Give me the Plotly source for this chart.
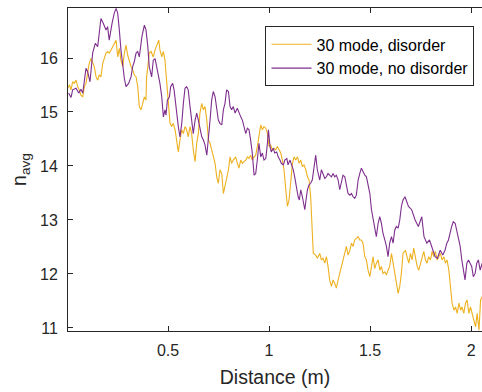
import plotly.graph_objects as go

# "30 mode, disorder"
dist_dis = [0.003, 0.012, 0.020, 0.028, 0.036, 0.045, 0.053, 0.061, 0.069, 0.078, 0.086, 0.094, 0.102, 0.110, 0.119, 0.127, 0.135, 0.144, 0.152, 0.160, 0.168, 0.177, 0.185, 0.193, 0.201, 0.209, 0.218, 0.226, 0.234, 0.243, 0.251, 0.259, 0.267, 0.276, 0.284, 0.292, 0.300, 0.309, 0.317, 0.325, 0.333, 0.342, 0.350, 0.358, 0.366, 0.375, 0.383, 0.391, 0.394, 0.400, 0.407, 0.416, 0.427, 0.436, 0.447, 0.454, 0.460, 0.469, 0.477, 0.485, 0.490, 0.497, 0.501, 0.510, 0.518, 0.526, 0.535, 0.543, 0.551, 0.559, 0.568, 0.576, 0.584, 0.592, 0.600, 0.609, 0.617, 0.625, 0.634, 0.642, 0.650, 0.658, 0.667, 0.675, 0.683, 0.692, 0.700, 0.708, 0.716, 0.724, 0.733, 0.741, 0.749, 0.757, 0.766, 0.774, 0.782, 0.790, 0.799, 0.807, 0.815, 0.823, 0.835, 0.843, 0.851, 0.860, 0.868, 0.876, 0.885, 0.893, 0.901, 0.909, 0.917, 0.926, 0.934, 0.942, 0.950, 0.959, 0.967, 0.975, 0.984, 0.992, 1.000, 1.008, 1.016, 1.025, 1.033, 1.041, 1.050, 1.058, 1.066, 1.074, 1.083, 1.091, 1.099, 1.108, 1.116, 1.124, 1.132, 1.141, 1.149, 1.157, 1.165, 1.173, 1.182, 1.190, 1.198, 1.206, 1.214, 1.219, 1.231, 1.239, 1.243, 1.251, 1.259, 1.267, 1.276, 1.284, 1.292, 1.300, 1.309, 1.317, 1.325, 1.333, 1.342, 1.350, 1.358, 1.366, 1.375, 1.383, 1.391, 1.400, 1.408, 1.416, 1.424, 1.432, 1.441, 1.449, 1.457, 1.465, 1.474, 1.482, 1.490, 1.499, 1.507, 1.515, 1.523, 1.531, 1.540, 1.548, 1.556, 1.564, 1.573, 1.581, 1.589, 1.597, 1.606, 1.614, 1.622, 1.630, 1.639, 1.647, 1.655, 1.663, 1.675, 1.683, 1.692, 1.700, 1.708, 1.716, 1.724, 1.733, 1.741, 1.749, 1.757, 1.766, 1.774, 1.782, 1.790, 1.799, 1.807, 1.815, 1.823, 1.832, 1.840, 1.848, 1.856, 1.865, 1.873, 1.881, 1.890, 1.898, 1.906, 1.915, 1.923, 1.931, 1.940, 1.948, 1.955, 1.964, 1.972, 1.980, 1.989, 1.997, 2.005, 2.014, 2.022, 2.030, 2.039, 2.047, 2.055]
navg_dis = [15.44, 15.50, 15.41, 15.56, 15.53, 15.59, 15.47, 15.41, 15.31, 15.28, 15.47, 15.53, 15.72, 15.90, 15.99, 15.93, 15.84, 15.65, 15.59, 15.69, 15.65, 15.90, 16.02, 16.09, 16.12, 16.09, 16.15, 16.21, 16.27, 16.33, 16.02, 16.18, 15.96, 15.84, 16.09, 16.24, 16.06, 15.93, 15.84, 15.78, 15.69, 15.65, 15.47, 15.10, 15.04, 15.16, 15.28, 15.22, 15.65, 15.84, 16.09, 16.12, 16.02, 16.15, 16.27, 16.33, 16.15, 16.02, 16.12, 15.96, 15.72, 15.35, 15.10, 14.79, 14.73, 14.79, 14.67, 14.42, 14.26, 14.48, 14.67, 14.60, 14.73, 14.67, 14.54, 14.73, 14.60, 14.30, 14.08, 14.42, 14.60, 14.98, 15.16, 15.04, 15.10, 14.85, 14.48, 14.42, 14.30, 14.17, 14.05, 13.80, 13.68, 13.93, 13.86, 13.49, 13.62, 13.80, 13.93, 14.17, 14.05, 14.11, 14.17, 14.05, 13.96, 14.11, 14.05, 14.08, 14.11, 14.17, 14.14, 14.20, 14.11, 14.17, 14.20, 14.36, 14.60, 14.76, 14.67, 14.73, 14.70, 14.60, 14.36, 14.39, 14.30, 14.33, 14.30, 14.36, 14.30, 14.24, 14.11, 13.93, 13.56, 13.25, 13.37, 13.74, 14.05, 14.17, 14.11, 14.17, 14.05, 14.11, 13.99, 14.02, 13.93, 13.80, 13.74, 13.43, 12.81, 12.38, 12.35, 12.29, 12.32, 12.38, 12.26, 12.29, 12.20, 12.32, 12.14, 11.89, 11.77, 11.89, 11.83, 11.74, 11.89, 12.01, 12.14, 12.26, 12.38, 12.51, 12.35, 12.44, 12.57, 12.51, 12.63, 12.66, 12.69, 12.63, 12.63, 12.57, 12.32, 12.26, 12.07, 11.95, 12.14, 12.32, 12.10, 12.20, 12.26, 12.07, 12.14, 12.01, 12.04, 11.98, 12.07, 12.14, 12.38, 12.20, 12.01, 11.83, 11.64, 11.77, 12.01, 12.38, 12.44, 12.32, 12.20, 12.38, 12.26, 12.48, 12.32, 12.14, 12.07, 12.20, 12.32, 12.42, 12.26, 12.20, 12.32, 12.26, 12.42, 12.32, 12.42, 12.26, 12.32, 12.38, 12.26, 12.32, 12.20, 12.26, 12.07, 11.70, 11.46, 11.33, 11.39, 11.27, 11.46, 11.33, 11.39, 11.27, 11.46, 11.52, 11.27, 11.39, 11.27, 11.15, 11.02, 11.27, 10.96, 11.52, 11.58]

# "30 mode, no disorder"
dist_nodis = [0.008, 0.020, 0.028, 0.045, 0.058, 0.069, 0.078, 0.094, 0.102, 0.114, 0.127, 0.140, 0.152, 0.168, 0.180, 0.193, 0.201, 0.209, 0.223, 0.234, 0.243, 0.251, 0.259, 0.267, 0.284, 0.292, 0.305, 0.317, 0.325, 0.333, 0.342, 0.350, 0.358, 0.371, 0.383, 0.391, 0.400, 0.407, 0.419, 0.427, 0.436, 0.444, 0.452, 0.460, 0.469, 0.477, 0.485, 0.490, 0.497, 0.507, 0.513, 0.523, 0.530, 0.540, 0.551, 0.559, 0.568, 0.576, 0.584, 0.592, 0.600, 0.609, 0.617, 0.625, 0.634, 0.642, 0.650, 0.658, 0.667, 0.675, 0.683, 0.692, 0.700, 0.708, 0.716, 0.724, 0.733, 0.741, 0.749, 0.757, 0.766, 0.774, 0.782, 0.790, 0.799, 0.807, 0.815, 0.823, 0.832, 0.843, 0.851, 0.860, 0.868, 0.876, 0.885, 0.893, 0.901, 0.909, 0.917, 0.926, 0.934, 0.942, 0.950, 0.959, 0.967, 0.975, 0.984, 0.992, 0.997, 1.005, 1.011, 1.021, 1.028, 1.038, 1.045, 1.054, 1.061, 1.071, 1.078, 1.088, 1.094, 1.104, 1.110, 1.120, 1.127, 1.137, 1.144, 1.150, 1.157, 1.165, 1.173, 1.177, 1.183, 1.190, 1.198, 1.206, 1.214, 1.223, 1.231, 1.239, 1.243, 1.251, 1.259, 1.267, 1.276, 1.284, 1.292, 1.300, 1.309, 1.317, 1.325, 1.333, 1.342, 1.350, 1.358, 1.366, 1.375, 1.383, 1.391, 1.400, 1.408, 1.416, 1.424, 1.432, 1.441, 1.449, 1.457, 1.465, 1.474, 1.482, 1.490, 1.499, 1.507, 1.515, 1.523, 1.531, 1.540, 1.548, 1.556, 1.564, 1.573, 1.581, 1.589, 1.597, 1.606, 1.614, 1.622, 1.630, 1.639, 1.647, 1.655, 1.663, 1.673, 1.690, 1.706, 1.723, 1.739, 1.756, 1.767, 1.781, 1.794, 1.805, 1.822, 1.833, 1.847, 1.860, 1.871, 1.880, 1.888, 1.904, 1.912, 1.921, 1.929, 1.946, 1.954, 1.962, 1.970, 1.979, 1.987, 1.995, 2.003, 2.011, 2.020, 2.028, 2.036, 2.045, 2.055]
navg_nodis = [15.35, 15.27, 15.41, 15.44, 15.35, 15.42, 15.35, 15.81, 15.75, 15.56, 16.09, 16.27, 16.21, 16.73, 16.64, 16.52, 16.58, 16.33, 16.64, 16.83, 16.92, 16.83, 16.52, 16.15, 15.62, 15.47, 15.53, 15.65, 15.84, 15.93, 16.09, 16.12, 16.02, 16.40, 16.61, 16.52, 16.21, 15.84, 15.65, 15.96, 15.99, 15.84, 15.72, 15.53, 15.28, 14.91, 15.04, 14.94, 15.22, 15.28, 15.47, 15.53, 15.41, 15.04, 14.73, 14.54, 14.79, 15.16, 15.44, 15.47, 15.41, 15.10, 14.79, 14.60, 14.85, 14.98, 14.85, 14.67, 14.54, 14.48, 14.39, 14.20, 14.48, 14.85, 15.22, 15.38, 15.28, 15.10, 14.85, 14.79, 14.76, 15.04, 15.16, 15.41, 15.38, 15.10, 15.04, 15.10, 14.98, 15.07, 14.98, 14.91, 14.85, 14.73, 14.60, 14.70, 14.67, 14.48, 14.24, 13.83, 13.86, 14.11, 14.42, 14.17, 14.24, 14.11, 14.14, 14.42, 14.67, 14.36, 14.26, 14.33, 14.24, 14.26, 14.17, 14.11, 14.05, 14.02, 14.11, 14.14, 14.02, 14.11, 14.05, 13.93, 13.80, 13.56, 13.43, 13.37, 13.56, 13.43, 13.25, 13.19, 13.37, 13.56, 13.65, 13.68, 13.74, 13.99, 14.20, 13.93, 13.86, 13.74, 13.93, 13.86, 13.77, 13.80, 13.86, 13.83, 13.80, 13.86, 13.80, 13.83, 13.74, 13.56, 13.68, 13.83, 13.80, 13.62, 13.49, 13.46, 13.49, 13.43, 13.40, 13.46, 13.74, 13.86, 13.96, 13.90, 13.83, 13.80, 13.68, 13.49, 13.19, 13.00, 12.88, 12.69, 12.94, 13.06, 12.94, 12.75, 12.63, 12.51, 12.32, 12.57, 12.69, 12.57, 12.81, 12.88, 12.85, 13.00, 13.25, 13.37, 13.43, 13.25, 13.19, 13.00, 12.88, 13.06, 12.69, 12.57, 12.63, 12.51, 12.32, 12.29, 12.44, 12.35, 12.44, 12.57, 12.63, 12.88, 12.97, 12.94, 12.81, 12.51, 12.26, 12.07, 11.89, 12.20, 12.26, 12.20, 12.14, 11.95, 12.01, 12.20, 12.26, 12.07, 12.20]

x_ticks = [0.5, 1, 1.5, 2]
x_tick_text = ["0.5", "1", "1.5", "2"]
y_ticks = [11, 12, 13, 14, 15, 16]
y_tick_text = ["11", "12", "13", "14", "15", "16"]

FONT = "Liberation Sans, Arial, sans-serif"
AX = "#262626"

fig = go.Figure()
fig.add_trace(go.Scatter(x=dist_dis, y=navg_dis, mode="lines", name="30 mode, disorder",
                         line=dict(color="#EDB120", width=1.1)))
fig.add_trace(go.Scatter(x=dist_nodis, y=navg_nodis, mode="lines", name="30 mode, no disorder",
                         line=dict(color="#7E2F8E", width=1.1)))

fig.update_layout(
    width=482, height=392,
    margin=dict(l=68, r=0, t=8, b=61),
    paper_bgcolor="white", plot_bgcolor="white",
    font=dict(family=FONT, size=16, color=AX),
    legend=dict(x=0.477, y=0.943, xanchor="left", yanchor="top",
                bgcolor="white", bordercolor="#262626", borderwidth=1,
                font=dict(family=FONT, size=16, color="#000000"),
                tracegroupgap=0, itemwidth=40),
    xaxis=dict(range=[0.005, 2.054], tickvals=x_ticks, ticktext=x_tick_text,
               ticks="inside", ticklen=5, tickcolor=AX, tickwidth=1,
               showline=True, linecolor=AX, linewidth=1, mirror="ticks",
               showgrid=False, zeroline=False, ticklabelstandoff=5,
               title=dict(text="Distance (m)", font=dict(size=19.5, color=AX), standoff=12)),
    yaxis=dict(range=[10.944, 16.926], tickvals=y_ticks, ticktext=y_tick_text,
               ticks="inside", ticklen=5, tickcolor=AX, tickwidth=1,
               showline=True, linecolor=AX, linewidth=1, mirror=False,
               showgrid=False, zeroline=False, ticklabelstandoff=6,
               title=dict(text="n<sub>avg</sub>", font=dict(size=19.5, color=AX), standoff=8)),
)

fig.write_html("out.html")
